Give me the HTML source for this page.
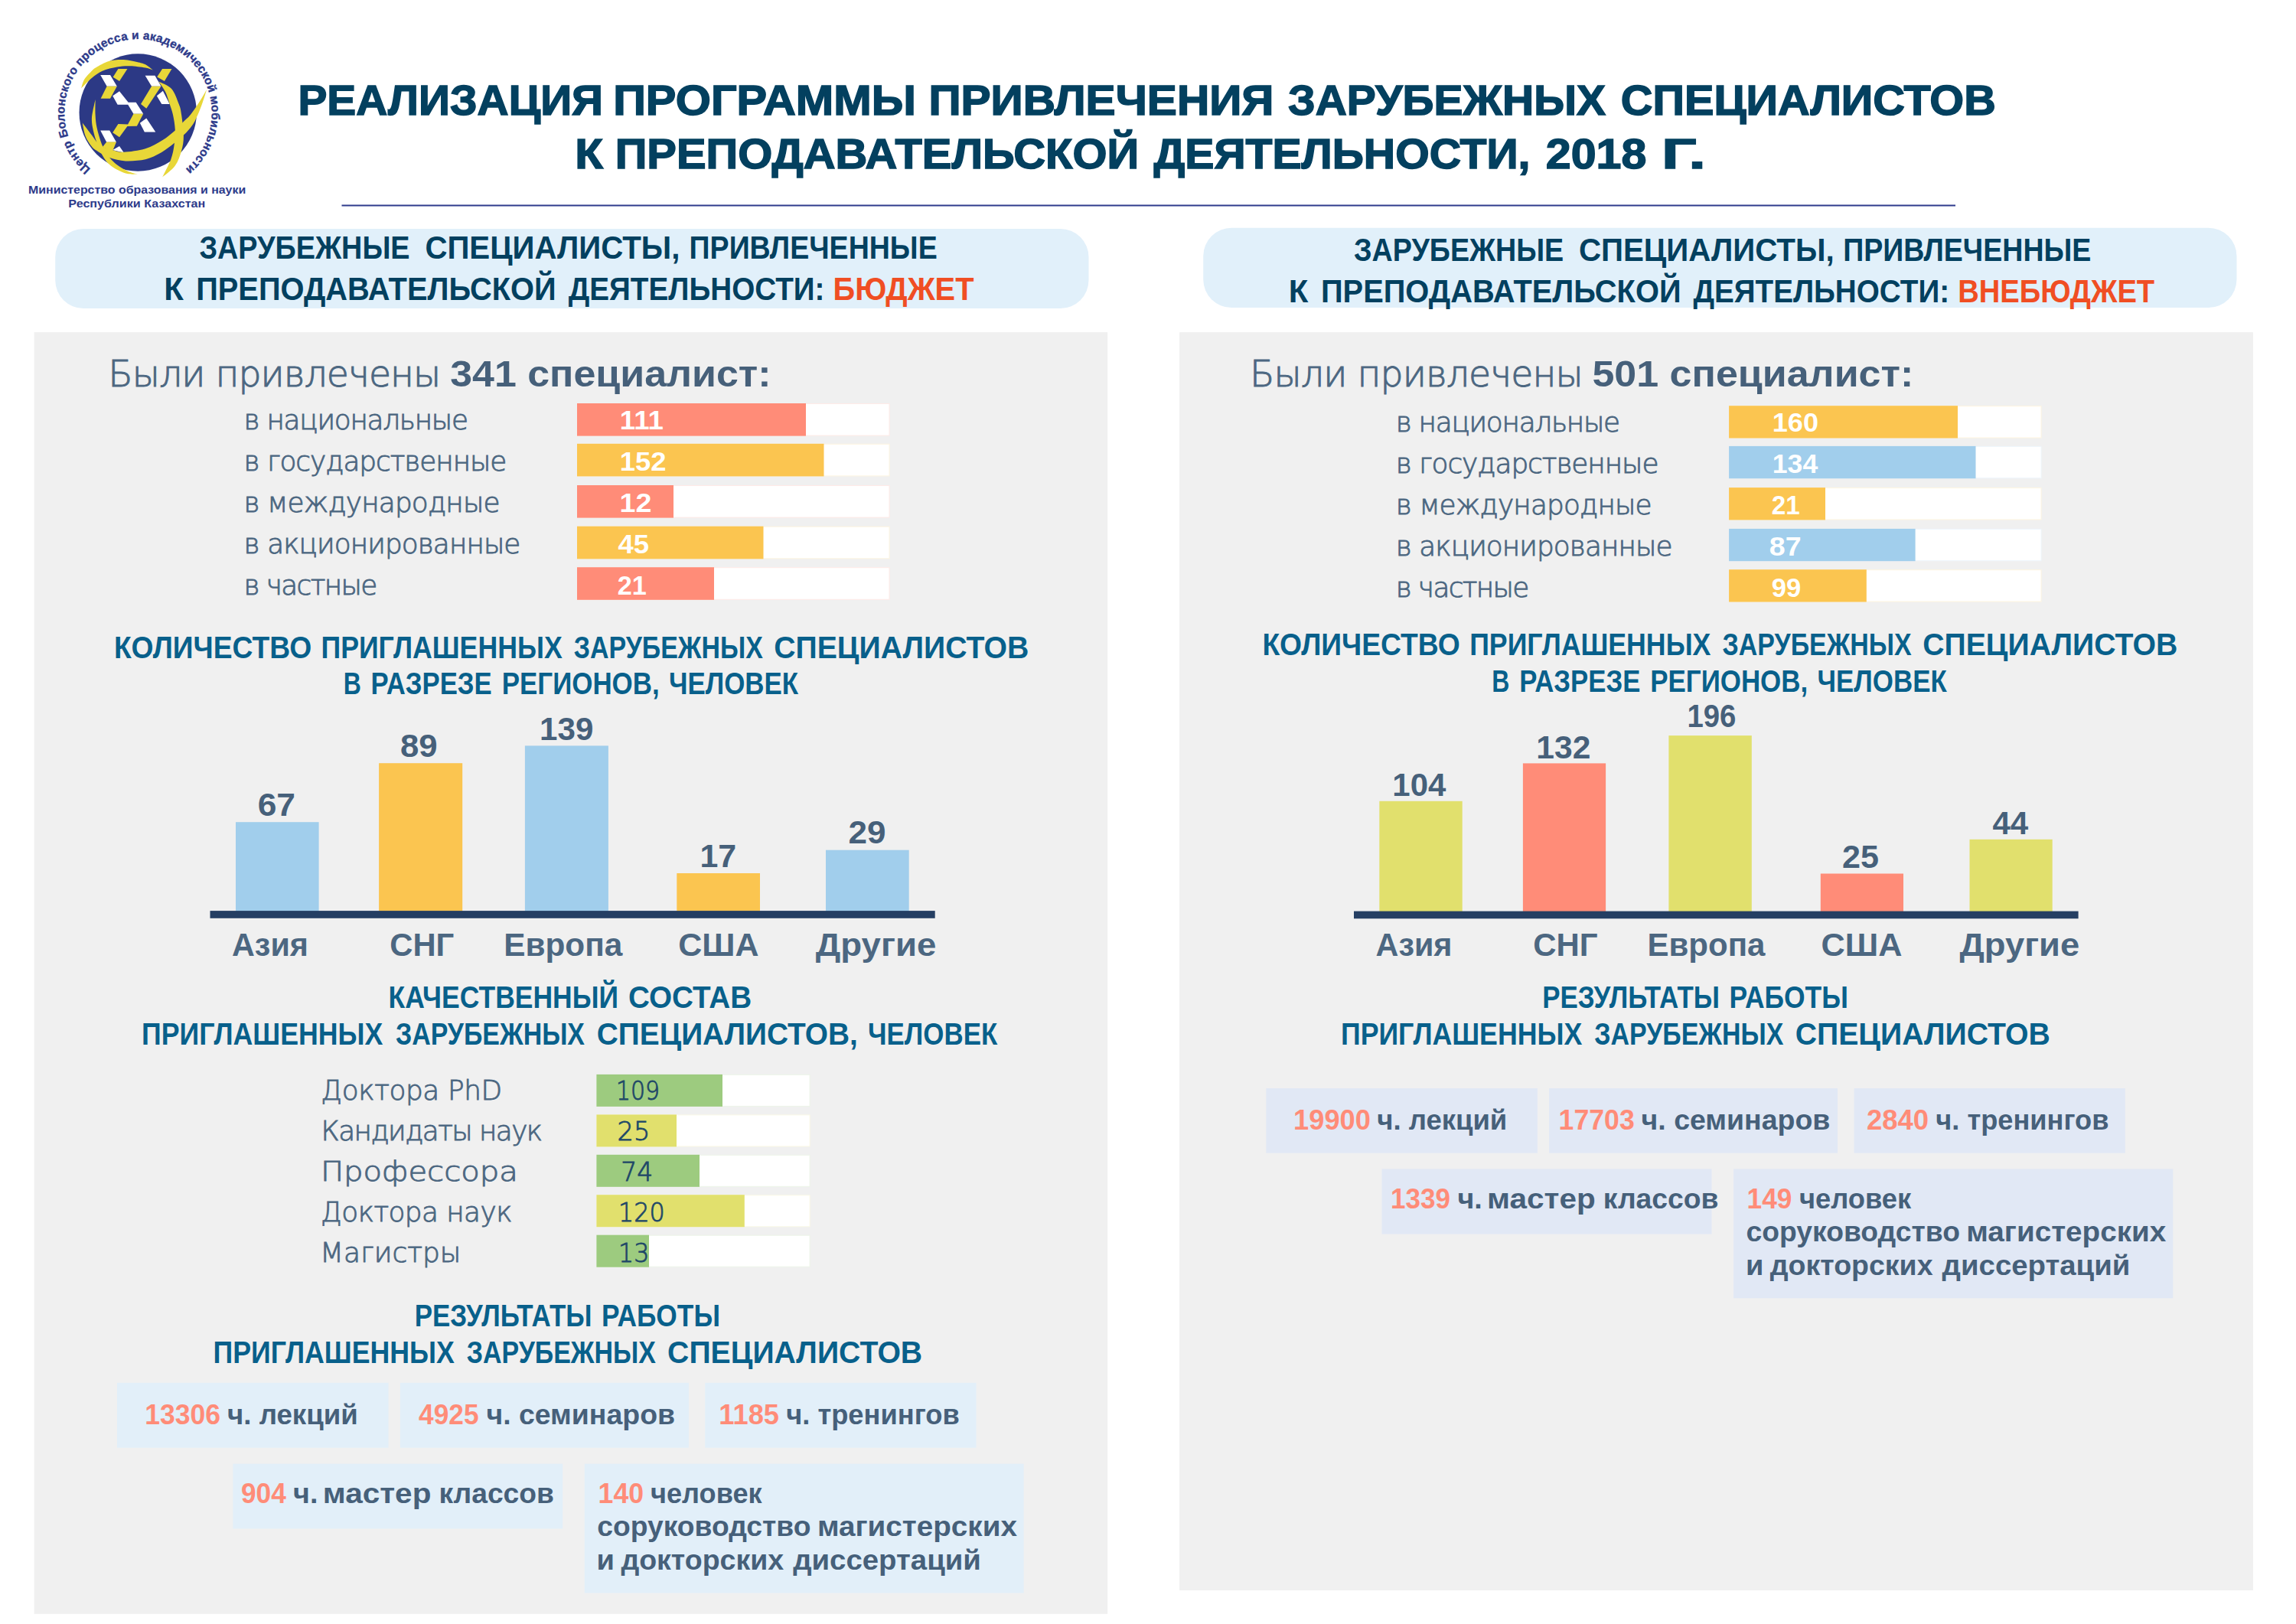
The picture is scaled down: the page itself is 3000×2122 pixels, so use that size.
<!DOCTYPE html>
<html lang="ru">
<head>
<meta charset="utf-8">
<title>Реализация программы привлечения зарубежных специалистов к преподавательской деятельности, 2018 г.</title>
<style>
html,body{margin:0;padding:0;background:#fff;}
body{width:3000px;height:2122px;overflow:hidden;font-family:"Liberation Sans", sans-serif;}
svg{display:block;font-family:"Liberation Sans", sans-serif;}
svg text{white-space:pre;}
.lt{font-family:"DejaVu Sans Light","DejaVu Sans","Liberation Sans",sans-serif;font-weight:200;}
</style>
</head>
<body>
<svg width="3000" height="2122" viewBox="0 0 3000 2122">
<circle cx="180.2" cy="147" r="76.7" fill="#2C3985"/>
<g fill="#E8D738"><path d="M106.0,115.5 C106.7,113.6 108.0,107.5 110.0,104.0 C112.0,100.5 115.6,97.0 118.2,94.4 C120.8,91.8 121.4,90.6 125.4,88.2 C129.4,85.8 136.1,81.6 142.1,79.9 C148.1,78.2 155.0,77.8 161.5,78.0 C168.0,78.2 176.2,80.4 180.9,81.4 C185.7,82.5 186.8,82.6 190.0,84.3 C193.2,86.0 198.4,90.4 200.1,91.6 C198.4,91.1 195.1,89.5 190.0,88.6 C184.9,87.7 176.0,86.5 169.8,86.3 C163.7,86.1 159.1,86.5 153.1,87.6 C147.1,88.7 139.2,90.4 133.7,92.8 C128.2,95.2 124.5,98.3 119.9,102.1 C115.3,105.9 108.3,113.3 106.0,115.5Z"/><path d="M124.6,129.9 C124.0,132.4 122.1,140.8 121.3,145.0 C120.5,149.2 120.0,151.4 119.9,155.0 C119.9,158.6 120.1,161.9 121.0,166.6 C121.9,171.3 123.3,177.3 125.4,183.3 C127.5,189.3 130.5,197.2 133.7,202.7 C136.9,208.2 139.7,212.5 144.8,216.5 C149.9,220.5 158.4,224.7 164.2,226.5 C170.0,228.3 177.2,227.4 179.8,227.6 C177.7,226.9 171.4,225.7 167.0,223.7 C162.6,221.7 157.1,218.3 153.1,215.4 C149.1,212.5 146.0,209.3 143.2,206.0 C140.4,202.7 138.3,198.8 136.5,195.5 C134.7,192.2 133.8,190.8 132.1,186.0 C130.4,181.2 127.8,172.6 126.5,166.6 C125.2,160.6 124.9,156.1 124.6,150.0 C124.3,143.9 124.6,133.2 124.6,129.9Z"/></g>
<g transform="translate(120,80) scale(0.080064)">
<polygon points="140,225 300,225 410,410 245,410" fill="#FFFFFF"/>
<polygon points="450,490 595,670 720,670 840,860 680,860 590,710 420,710 340,565" fill="#FFFFFF"/>
<polygon points="870,235 1030,235 1130,410 975,410" fill="#FFFFFF"/>
<polygon points="1060,565 1160,485 1270,700 1140,700" fill="#FFFFFF"/>
<polygon points="785,1010 890,930 1040,1155 860,1155" fill="#FFFFFF"/>
<polygon points="140,1130 290,1130 400,1320 240,1320" fill="#FFFFFF"/>
<polygon points="340,1450 450,1385 520,1490 430,1470" fill="#FFFFFF"/>
<polygon points="430,125 580,125 450,325 345,260" fill="#E8D738"/>
<polygon points="245,409 410,409 300,610 145,610" fill="#E8D738"/>
<polygon points="1150,125 1305,125 1185,325 1065,255" fill="#E8D738"/>
<polygon points="975,409 1130,409 890,770 800,700" fill="#E8D738"/>
<polygon points="680,859 840,859 735,1058 580,1062 450,1240 340,1165 430,1025 588,1030" fill="#E8D738"/>
<polygon points="240,1319 400,1319 335,1475 175,1400" fill="#E8D738"/>
</g>
<g fill="#E8D738"><path d="M107.7,160.5 C108.3,163.4 109.6,172.5 111.6,177.7 C113.6,182.9 117.2,188.2 119.9,191.6 C122.6,195.0 124.1,195.6 128.0,198.0 C131.9,200.4 137.2,203.9 143.2,206.0 C149.2,208.1 156.4,210.0 164.2,210.4 C172.0,210.8 182.9,209.7 190.0,208.2 C197.1,206.7 201.0,204.5 206.6,201.6 C212.2,198.7 217.8,194.7 223.3,190.5 C228.9,186.3 235.3,181.0 239.9,176.6 C244.5,172.2 247.9,168.2 251.0,163.9 C254.1,159.6 255.9,155.8 258.2,150.6 C260.5,145.4 263.0,138.6 265.0,133.0 C267.0,127.4 269.2,119.7 270.1,117.0 C268.4,119.8 263.6,128.5 260.0,134.0 C256.4,139.5 252.3,145.7 248.8,150.0 C245.3,154.3 242.1,156.6 238.8,160.0 C235.5,163.4 233.2,166.6 228.8,170.5 C224.4,174.4 218.7,179.3 212.2,183.3 C205.7,187.3 198.4,191.7 190.0,194.3 C181.6,196.9 168.6,198.5 161.5,198.8 C154.4,199.1 151.7,197.2 147.6,196.2 C143.5,195.2 140.2,194.4 137.0,193.0 C133.8,191.6 131.0,190.2 128.2,187.5 C125.3,184.8 123.3,181.1 119.9,176.6 C116.5,172.1 109.7,163.2 107.7,160.5Z"/><path d="M207.3,106.4 C208.8,108.7 213.7,115.1 216.1,120.0 C218.5,124.9 220.0,131.0 221.7,136.0 C223.3,141.0 224.8,144.4 226.0,150.0 C227.2,155.6 228.5,162.9 228.8,169.4 C229.1,175.9 228.6,182.3 227.7,188.8 C226.8,195.3 225.9,201.1 223.3,208.2 C220.7,215.3 214.0,227.6 212.2,231.5 C215.0,229.0 224.7,222.2 228.8,216.5 C233.0,210.8 235.2,203.6 237.1,197.1 C238.9,190.6 239.9,185.5 239.9,177.7 C239.9,169.8 238.1,156.9 237.1,150.0 C236.1,143.1 235.9,141.7 233.7,136.0 C231.5,130.3 228.5,120.9 224.1,116.0 C219.7,111.1 210.1,108.0 207.3,106.4Z"/></g>
<defs><path id="ring" d="M118.49,220.89 A96.2,96.2 0 1 1 242.80,220.56"/></defs>
<text font-size="15.4" font-weight="bold" fill="#2D3A8A" stroke="#2D3A8A" stroke-width="0.35" textLength="469.3" lengthAdjust="spacing"><textPath href="#ring" textLength="469.3" lengthAdjust="spacing">Центр Болонского процесса и академической мобильности</textPath></text>
<text x="37.0" y="252.7" font-size="15" fill="#2D3A8A" font-weight="bold" textLength="284.2" lengthAdjust="spacingAndGlyphs">Министерство образования и науки</text>
<text x="89.3" y="270.7" font-size="15" fill="#2D3A8A" font-weight="bold" textLength="179.0" lengthAdjust="spacingAndGlyphs">Республики Казахстан</text>
<text y="150.4" font-size="55" font-weight="bold" fill="#03405F" stroke="#03405F" stroke-width="1.5"><tspan x="389.4" textLength="398.6" lengthAdjust="spacingAndGlyphs">РЕАЛИЗАЦИЯ</tspan> <tspan x="801.2" textLength="395.7" lengthAdjust="spacingAndGlyphs">ПРОГРАММЫ</tspan> <tspan x="1213.4" textLength="451.0" lengthAdjust="spacingAndGlyphs">ПРИВЛЕЧЕНИЯ</tspan> <tspan x="1683.0" textLength="415.0" lengthAdjust="spacingAndGlyphs">ЗАРУБЕЖНЫХ</tspan> <tspan x="2117.8" textLength="490.1" lengthAdjust="spacingAndGlyphs">СПЕЦИАЛИСТОВ</tspan></text>
<text y="220.0" font-size="55" font-weight="bold" fill="#03405F" stroke="#03405F" stroke-width="1.5"><tspan x="751.3" textLength="36.7" lengthAdjust="spacingAndGlyphs">К</tspan> <tspan x="803.7" textLength="684.4" lengthAdjust="spacingAndGlyphs">ПРЕПОДАВАТЕЛЬСКОЙ</tspan> <tspan x="1507.5" textLength="492.0" lengthAdjust="spacingAndGlyphs">ДЕЯТЕЛЬНОСТИ,</tspan> <tspan x="2019.8" textLength="131.6" lengthAdjust="spacingAndGlyphs">2018</tspan> <tspan x="2171.2" textLength="57.5" lengthAdjust="spacingAndGlyphs">Г.</tspan></text>
<rect x="446.5" y="267.5" width="2108.5" height="2.0" fill="#2E3A8C"/>
<rect x="72.2" y="298.9" width="1350.3" height="104.1" fill="#E1F0FA" rx="37"/>
<rect x="1572.2" y="297.7" width="1350.3" height="104.3" fill="#E1F0FA" rx="37"/>
<text y="338.4" font-size="43.2" font-weight="bold" fill="#03405F"><tspan x="260.4" textLength="275.2" lengthAdjust="spacingAndGlyphs">ЗАРУБЕЖНЫЕ</tspan> <tspan x="555.4" textLength="333.0" lengthAdjust="spacingAndGlyphs">СПЕЦИАЛИСТЫ,</tspan> <tspan x="900.6" textLength="324.1" lengthAdjust="spacingAndGlyphs">ПРИВЛЕЧЕННЫЕ</tspan></text>
<text y="392.0" font-size="43.2" font-weight="bold" fill="#03405F"><tspan x="214.2" textLength="25.6" lengthAdjust="spacingAndGlyphs">К</tspan> <tspan x="256.2" textLength="470.5" lengthAdjust="spacingAndGlyphs">ПРЕПОДАВАТЕЛЬСКОЙ</tspan> <tspan x="742.7" textLength="334.8" lengthAdjust="spacingAndGlyphs">ДЕЯТЕЛЬНОСТИ:</tspan> <tspan x="1088.6" textLength="183.9" lengthAdjust="spacingAndGlyphs" fill="#F04E23">БЮДЖЕТ</tspan></text>
<text y="341.0" font-size="43.2" font-weight="bold" fill="#03405F"><tspan x="1769.0" textLength="274.2" lengthAdjust="spacingAndGlyphs">ЗАРУБЕЖНЫЕ</tspan> <tspan x="2062.9" textLength="333.7" lengthAdjust="spacingAndGlyphs">СПЕЦИАЛИСТЫ,</tspan> <tspan x="2408.2" textLength="324.2" lengthAdjust="spacingAndGlyphs">ПРИВЛЕЧЕННЫЕ</tspan></text>
<text y="395.2" font-size="43.2" font-weight="bold" fill="#03405F"><tspan x="1683.7" textLength="25.6" lengthAdjust="spacingAndGlyphs">К</tspan> <tspan x="1726.0" textLength="470.5" lengthAdjust="spacingAndGlyphs">ПРЕПОДАВАТЕЛЬСКОЙ</tspan> <tspan x="2212.4" textLength="334.7" lengthAdjust="spacingAndGlyphs">ДЕЯТЕЛЬНОСТИ:</tspan> <tspan x="2558.2" textLength="257.0" lengthAdjust="spacingAndGlyphs" fill="#F04E23">ВНЕБЮДЖЕТ</tspan></text>
<rect x="44.6" y="434.1" width="1402.6" height="1674.7" fill="#F0F0F0"/>
<rect x="1541.1" y="434.1" width="1402.8" height="1644.0" fill="#F0F0F0"/>
<text y="505.0"><tspan x="141.2" font-size="47.3" fill="#4C6781" class="lt" stroke="#4C6781" stroke-width="1.0" textLength="435.0" lengthAdjust="spacing">Были привлечены</tspan> <tspan x="588.2" font-size="48.3" fill="#46607A" font-weight="bold" textLength="419.4" lengthAdjust="spacingAndGlyphs">341 специалист:</tspan></text>
<rect x="754.5" y="527.5" width="407.5" height="41.6" fill="#FFFFFF" stroke="#FFEAE7" stroke-width="1"/>
<rect x="754.0" y="527.0" width="299.0" height="42.6" fill="#FF8C78"/>
<text x="318.6" y="561.0" font-size="35.8" fill="#4C6781" class="lt" stroke="#4C6781" stroke-width="0.9" textLength="293.4" lengthAdjust="spacing">в национальные</text>
<text x="809.8" y="561.0" font-size="34.2" fill="#FFFFFF" font-weight="bold" textLength="57.1" lengthAdjust="spacingAndGlyphs">111</text>
<rect x="754.5" y="580.3" width="407.5" height="41.6" fill="#FFFFFF" stroke="#FEF5E0" stroke-width="1"/>
<rect x="754.0" y="579.8" width="322.5" height="42.6" fill="#FBC550"/>
<text x="318.6" y="615.0" font-size="35.8" fill="#4C6781" class="lt" stroke="#4C6781" stroke-width="0.9" textLength="343.8" lengthAdjust="spacing">в государственные</text>
<text x="809.7" y="615.0" font-size="34.2" fill="#FFFFFF" font-weight="bold" textLength="60.8" lengthAdjust="spacingAndGlyphs">152</text>
<rect x="754.5" y="634.5" width="407.5" height="41.6" fill="#FFFFFF" stroke="#FFEAE7" stroke-width="1"/>
<rect x="754.0" y="634.0" width="126.0" height="42.6" fill="#FF8C78"/>
<text x="318.6" y="669.0" font-size="35.8" fill="#4C6781" class="lt" stroke="#4C6781" stroke-width="0.9" textLength="334.9" lengthAdjust="spacing">в международные</text>
<text x="809.6" y="669.0" font-size="34.2" fill="#FFFFFF" font-weight="bold" textLength="41.9" lengthAdjust="spacingAndGlyphs">12</text>
<rect x="754.5" y="688.2" width="407.5" height="41.6" fill="#FFFFFF" stroke="#FEF5E0" stroke-width="1"/>
<rect x="754.0" y="687.7" width="243.5" height="42.6" fill="#FBC550"/>
<text x="318.6" y="723.0" font-size="35.8" fill="#4C6781" class="lt" stroke="#4C6781" stroke-width="0.9" textLength="361.8" lengthAdjust="spacing">в акционированные</text>
<text x="807.4" y="723.0" font-size="34.2" fill="#FFFFFF" font-weight="bold" textLength="40.6" lengthAdjust="spacingAndGlyphs">45</text>
<rect x="754.5" y="741.7" width="407.5" height="41.6" fill="#FFFFFF" stroke="#FFEAE7" stroke-width="1"/>
<rect x="754.0" y="741.2" width="179.0" height="42.6" fill="#FF8C78"/>
<text x="318.6" y="777.0" font-size="35.8" fill="#4C6781" class="lt" stroke="#4C6781" stroke-width="0.9" textLength="174.7" lengthAdjust="spacing">в частные</text>
<text x="806.8" y="777.0" font-size="34.2" fill="#FFFFFF" font-weight="bold" textLength="38.1" lengthAdjust="spacingAndGlyphs">21</text>
<text y="859.6" font-size="40.6" font-weight="bold" fill="#08608B"><tspan x="148.9" textLength="258.3" lengthAdjust="spacingAndGlyphs">КОЛИЧЕСТВО</tspan> <tspan x="419.5" textLength="315.2" lengthAdjust="spacingAndGlyphs">ПРИГЛАШЕННЫХ</tspan> <tspan x="749.8" textLength="247.1" lengthAdjust="spacingAndGlyphs">ЗАРУБЕЖНЫХ</tspan> <tspan x="1011.2" textLength="333.1" lengthAdjust="spacingAndGlyphs">СПЕЦИАЛИСТОВ</tspan></text>
<text y="906.6" font-size="40.6" font-weight="bold" fill="#08608B"><tspan x="448.7" textLength="23.1" lengthAdjust="spacingAndGlyphs">В</tspan> <tspan x="484.6" textLength="158.1" lengthAdjust="spacingAndGlyphs">РАЗРЕЗЕ</tspan> <tspan x="655.8" textLength="205.9" lengthAdjust="spacingAndGlyphs">РЕГИОНОВ,</tspan> <tspan x="874.0" textLength="169.1" lengthAdjust="spacingAndGlyphs">ЧЕЛОВЕК</tspan></text>
<rect x="308.0" y="1074.2" width="108.6" height="116.8" fill="#A1CEEC"/>
<text x="336.7" y="1065.9" font-size="42" fill="#46607A" font-weight="bold" textLength="49.3" lengthAdjust="spacingAndGlyphs">67</text>
<rect x="495.1" y="997.2" width="109.1" height="193.8" fill="#FBC550"/>
<text x="523.0" y="988.8" font-size="42" fill="#46607A" font-weight="bold" textLength="48.7" lengthAdjust="spacingAndGlyphs">89</text>
<rect x="685.9" y="974.4" width="109.0" height="216.6" fill="#A1CEEC"/>
<text x="705.1" y="966.6" font-size="42" fill="#46607A" font-weight="bold" textLength="70.3" lengthAdjust="spacingAndGlyphs">139</text>
<rect x="884.3" y="1141.0" width="108.7" height="50.0" fill="#FBC550"/>
<text x="914.5" y="1132.9" font-size="42" fill="#46607A" font-weight="bold" textLength="47.7" lengthAdjust="spacingAndGlyphs">17</text>
<rect x="1079.0" y="1110.7" width="108.7" height="80.3" fill="#A1CEEC"/>
<text x="1108.5" y="1102.3" font-size="42" fill="#46607A" font-weight="bold" textLength="49.0" lengthAdjust="spacingAndGlyphs">29</text>
<rect x="274.5" y="1190.1" width="947.2" height="9.7" fill="#253F63"/>
<text x="303.0" y="1248.6" font-size="42" fill="#4C6781" font-weight="bold" textLength="99.9" lengthAdjust="spacingAndGlyphs">Азия</text>
<text x="509.3" y="1248.6" font-size="42" fill="#4C6781" font-weight="bold" textLength="84.0" lengthAdjust="spacingAndGlyphs">СНГ</text>
<text x="658.2" y="1248.6" font-size="42" fill="#4C6781" font-weight="bold" textLength="155.1" lengthAdjust="spacingAndGlyphs">Европа</text>
<text x="886.2" y="1248.6" font-size="42" fill="#4C6781" font-weight="bold" textLength="105.3" lengthAdjust="spacingAndGlyphs">США</text>
<text x="1065.8" y="1248.6" font-size="42" fill="#4C6781" font-weight="bold" textLength="157.5" lengthAdjust="spacingAndGlyphs">Другие</text>
<text y="1317.0" font-size="40.6" font-weight="bold" fill="#08608B"><tspan x="507.5" textLength="300.5" lengthAdjust="spacingAndGlyphs">КАЧЕСТВЕННЫЙ</tspan> <tspan x="821.1" textLength="161.0" lengthAdjust="spacingAndGlyphs">СОСТАВ</tspan></text>
<text y="1364.5" font-size="40.6" font-weight="bold" fill="#08608B"><tspan x="185.1" textLength="315.2" lengthAdjust="spacingAndGlyphs">ПРИГЛАШЕННЫХ</tspan> <tspan x="516.9" textLength="247.1" lengthAdjust="spacingAndGlyphs">ЗАРУБЕЖНЫХ</tspan> <tspan x="779.8" textLength="341.1" lengthAdjust="spacingAndGlyphs">СПЕЦИАЛИСТОВ,</tspan> <tspan x="1134.1" textLength="169.1" lengthAdjust="spacingAndGlyphs">ЧЕЛОВЕК</tspan></text>
<rect x="779.9" y="1404.4" width="278.2" height="41.0" fill="#FFFFFF" stroke="#EDF6E8" stroke-width="1"/>
<rect x="779.4" y="1403.9" width="164.6" height="42.0" fill="#9DCB7F"/>
<text x="419.3" y="1437.4" font-size="35.8" fill="#4C6781" class="lt" stroke="#4C6781" stroke-width="0.9" textLength="236.8" lengthAdjust="spacing">Доктора PhD</text>
<text x="804.9" y="1437.4" font-size="34.2" fill="#1F4868" class="lt" stroke="#1F4868" stroke-width="0.9" textLength="57.1" lengthAdjust="spacingAndGlyphs">109</text>
<rect x="779.9" y="1456.9" width="278.2" height="41.0" fill="#FFFFFF" stroke="#FAF9E5" stroke-width="1"/>
<rect x="779.4" y="1456.4" width="104.6" height="42.0" fill="#E1E06D"/>
<text x="419.6" y="1490.4" font-size="35.8" fill="#4C6781" class="lt" stroke="#4C6781" stroke-width="0.9" textLength="289.5" lengthAdjust="spacing">Кандидаты наук</text>
<text x="806.6" y="1490.4" font-size="34.2" fill="#1F4868" class="lt" stroke="#1F4868" stroke-width="0.9" textLength="42.7" lengthAdjust="spacingAndGlyphs">25</text>
<rect x="779.9" y="1509.3" width="278.2" height="41.0" fill="#FFFFFF" stroke="#EDF6E8" stroke-width="1"/>
<rect x="779.4" y="1508.8" width="134.6" height="42.0" fill="#9DCB7F"/>
<text x="418.9" y="1543.4" font-size="35.8" fill="#4C6781" class="lt" stroke="#4C6781" stroke-width="0.9" textLength="258.0" lengthAdjust="spacingAndGlyphs">Профессора</text>
<text x="811.3" y="1543.4" font-size="34.2" fill="#1F4868" class="lt" stroke="#1F4868" stroke-width="0.9" textLength="41.9" lengthAdjust="spacingAndGlyphs">74</text>
<rect x="779.9" y="1561.8" width="278.2" height="41.0" fill="#FFFFFF" stroke="#FAF9E5" stroke-width="1"/>
<rect x="779.4" y="1561.2" width="193.4" height="42.0" fill="#E1E06D"/>
<text x="419.1" y="1596.4" font-size="35.8" fill="#4C6781" class="lt" stroke="#4C6781" stroke-width="0.9" textLength="250.3" lengthAdjust="spacing">Доктора наук</text>
<text x="808.1" y="1596.4" font-size="34.2" fill="#1F4868" class="lt" stroke="#1F4868" stroke-width="0.9" textLength="60.7" lengthAdjust="spacingAndGlyphs">120</text>
<rect x="779.9" y="1614.2" width="278.2" height="41.0" fill="#FFFFFF" stroke="#EDF6E8" stroke-width="1"/>
<rect x="779.4" y="1613.7" width="68.6" height="42.0" fill="#9DCB7F"/>
<text x="418.0" y="1649.4" font-size="35.8" fill="#4C6781" class="lt" stroke="#4C6781" stroke-width="0.9" textLength="184.3" lengthAdjust="spacingAndGlyphs">Магистры</text>
<text x="808.1" y="1649.4" font-size="34.2" fill="#1F4868" class="lt" stroke="#1F4868" stroke-width="0.9" textLength="40.3" lengthAdjust="spacingAndGlyphs">13</text>
<text y="1733.1" font-size="40.6" font-weight="bold" fill="#08608B"><tspan x="541.8" textLength="231.6" lengthAdjust="spacingAndGlyphs">РЕЗУЛЬТАТЫ</tspan> <tspan x="786.0" textLength="155.0" lengthAdjust="spacingAndGlyphs">РАБОТЫ</tspan></text>
<text y="1781.0" font-size="40.6" font-weight="bold" fill="#08608B"><tspan x="278.6" textLength="315.2" lengthAdjust="spacingAndGlyphs">ПРИГЛАШЕННЫХ</tspan> <tspan x="609.8" textLength="247.1" lengthAdjust="spacingAndGlyphs">ЗАРУБЕЖНЫХ</tspan> <tspan x="872.1" textLength="333.1" lengthAdjust="spacingAndGlyphs">СПЕЦИАЛИСТОВ</tspan></text>
<rect x="153.0" y="1806.8" width="354.6" height="84.9" fill="#E2EFF9"/>
<text y="1861.0" font-size="37.3" font-weight="bold" fill="#46607A"><tspan x="189.2" textLength="98.9" lengthAdjust="spacingAndGlyphs" fill="#FF8C78">13306</tspan> <tspan x="297.0" textLength="170.8" lengthAdjust="spacingAndGlyphs">ч. лекций</tspan></text>
<rect x="522.9" y="1806.8" width="377.0" height="84.9" fill="#E2EFF9"/>
<text y="1861.0" font-size="37.3" font-weight="bold" fill="#46607A"><tspan x="547.1" textLength="78.5" lengthAdjust="spacingAndGlyphs" fill="#FF8C78">4925</tspan> <tspan x="635.4" textLength="246.7" lengthAdjust="spacingAndGlyphs">ч. семинаров</tspan></text>
<rect x="921.3" y="1806.8" width="354.2" height="84.9" fill="#E2EFF9"/>
<text y="1861.0" font-size="37.3" font-weight="bold" fill="#46607A"><tspan x="939.3" textLength="78.7" lengthAdjust="spacingAndGlyphs" fill="#FF8C78">1185</tspan> <tspan x="1027.2" textLength="226.6" lengthAdjust="spacingAndGlyphs">ч. тренингов</tspan></text>
<rect x="304.4" y="1912.7" width="430.8" height="84.7" fill="#E2EFF9"/>
<text y="1964.2" font-size="37.3" font-weight="bold" fill="#46607A"><tspan x="314.9" textLength="58.9" lengthAdjust="spacingAndGlyphs" fill="#FF8C78">904</tspan> <tspan x="383.1" textLength="32.3" lengthAdjust="spacingAndGlyphs">ч.</tspan> <tspan x="421.8" textLength="141.6" lengthAdjust="spacingAndGlyphs">мастер</tspan> <tspan x="573.5" textLength="150.4" lengthAdjust="spacingAndGlyphs">классов</tspan></text>
<rect x="763.8" y="1912.7" width="573.8" height="168.8" fill="#E2EFF9"/>
<text y="1964.2" font-size="37.3" font-weight="bold" fill="#46607A"><tspan x="781.6" textLength="59.5" lengthAdjust="spacingAndGlyphs" fill="#FF8C78">140</tspan> <tspan x="850.0" textLength="145.6" lengthAdjust="spacingAndGlyphs">человек</tspan></text>
<text y="2007.3" font-size="37.3" font-weight="bold" fill="#46607A"><tspan x="780.2" textLength="279.3" lengthAdjust="spacingAndGlyphs">соруководство</tspan> <tspan x="1067.9" textLength="261.0" lengthAdjust="spacingAndGlyphs">магистерских</tspan></text>
<text y="2051.0" font-size="37.3" font-weight="bold" fill="#46607A"><tspan x="779.6" textLength="23.4" lengthAdjust="spacingAndGlyphs">и</tspan> <tspan x="811.4" textLength="212.7" lengthAdjust="spacingAndGlyphs">докторских</tspan> <tspan x="1036.2" textLength="245.7" lengthAdjust="spacingAndGlyphs">диссертаций</tspan></text>
<text y="504.6"><tspan x="1633.0" font-size="47.3" fill="#4C6781" class="lt" stroke="#4C6781" stroke-width="1.0" textLength="435.8" lengthAdjust="spacing">Были привлечены</tspan> <tspan x="2080.4" font-size="48.3" fill="#46607A" font-weight="bold" textLength="419.9" lengthAdjust="spacingAndGlyphs">501 специалист:</tspan></text>
<rect x="2259.6" y="530.7" width="407.4" height="41.3" fill="#FFFFFF" stroke="#FEF5E0" stroke-width="1"/>
<rect x="2259.1" y="530.2" width="298.9" height="42.3" fill="#FBC550"/>
<text x="1823.7" y="563.7" font-size="35.8" fill="#4C6781" class="lt" stroke="#4C6781" stroke-width="0.9" textLength="293.4" lengthAdjust="spacing">в национальные</text>
<text x="2315.7" y="563.7" font-size="34.2" fill="#FFFFFF" font-weight="bold" textLength="60.3" lengthAdjust="spacingAndGlyphs">160</text>
<rect x="2259.6" y="583.4" width="407.4" height="41.3" fill="#FFFFFF" stroke="#EEF6FC" stroke-width="1"/>
<rect x="2259.1" y="582.9" width="322.4" height="42.3" fill="#A1CEEC"/>
<text x="1823.7" y="617.7" font-size="35.8" fill="#4C6781" class="lt" stroke="#4C6781" stroke-width="0.9" textLength="343.8" lengthAdjust="spacing">в государственные</text>
<text x="2315.8" y="617.7" font-size="34.2" fill="#FFFFFF" font-weight="bold" textLength="59.4" lengthAdjust="spacingAndGlyphs">134</text>
<rect x="2259.6" y="637.6" width="407.4" height="41.3" fill="#FFFFFF" stroke="#FEF5E0" stroke-width="1"/>
<rect x="2259.1" y="637.1" width="125.9" height="42.3" fill="#FBC550"/>
<text x="1823.7" y="671.6" font-size="35.8" fill="#4C6781" class="lt" stroke="#4C6781" stroke-width="0.9" textLength="334.9" lengthAdjust="spacing">в международные</text>
<text x="2314.8" y="671.6" font-size="34.2" fill="#FFFFFF" font-weight="bold" textLength="37.1" lengthAdjust="spacingAndGlyphs">21</text>
<rect x="2259.6" y="691.4" width="407.4" height="41.3" fill="#FFFFFF" stroke="#EEF6FC" stroke-width="1"/>
<rect x="2259.1" y="690.9" width="243.5" height="42.3" fill="#A1CEEC"/>
<text x="1823.7" y="725.6" font-size="35.8" fill="#4C6781" class="lt" stroke="#4C6781" stroke-width="0.9" textLength="361.8" lengthAdjust="spacing">в акционированные</text>
<text x="2311.8" y="725.6" font-size="34.2" fill="#FFFFFF" font-weight="bold" textLength="41.8" lengthAdjust="spacingAndGlyphs">87</text>
<rect x="2259.6" y="744.7" width="407.4" height="41.3" fill="#FFFFFF" stroke="#FEF5E0" stroke-width="1"/>
<rect x="2259.1" y="744.2" width="179.7" height="42.3" fill="#FBC550"/>
<text x="1823.7" y="779.5" font-size="35.8" fill="#4C6781" class="lt" stroke="#4C6781" stroke-width="0.9" textLength="174.7" lengthAdjust="spacing">в частные</text>
<text x="2314.8" y="779.5" font-size="34.2" fill="#FFFFFF" font-weight="bold" textLength="38.5" lengthAdjust="spacingAndGlyphs">99</text>
<text y="856.4" font-size="40.6" font-weight="bold" fill="#08608B"><tspan x="1649.4" textLength="258.3" lengthAdjust="spacingAndGlyphs">КОЛИЧЕСТВО</tspan> <tspan x="1920.2" textLength="315.2" lengthAdjust="spacingAndGlyphs">ПРИГЛАШЕННЫХ</tspan> <tspan x="2250.6" textLength="247.1" lengthAdjust="spacingAndGlyphs">ЗАРУБЕЖНЫХ</tspan> <tspan x="2512.2" textLength="333.1" lengthAdjust="spacingAndGlyphs">СПЕЦИАЛИСТОВ</tspan></text>
<text y="904.2" font-size="40.6" font-weight="bold" fill="#08608B"><tspan x="1949.2" textLength="23.1" lengthAdjust="spacingAndGlyphs">В</tspan> <tspan x="1985.2" textLength="158.1" lengthAdjust="spacingAndGlyphs">РАЗРЕЗЕ</tspan> <tspan x="2156.3" textLength="205.9" lengthAdjust="spacingAndGlyphs">РЕГИОНОВ,</tspan> <tspan x="2374.6" textLength="169.1" lengthAdjust="spacingAndGlyphs">ЧЕЛОВЕК</tspan></text>
<rect x="1802.3" y="1046.8" width="108.4" height="144.7" fill="#E1E06D"/>
<text x="1819.3" y="1039.7" font-size="42" fill="#46607A" font-weight="bold" textLength="70.0" lengthAdjust="spacingAndGlyphs">104</text>
<rect x="1989.9" y="997.4" width="108.2" height="194.1" fill="#FF8C78"/>
<text x="2007.3" y="990.6" font-size="42" fill="#46607A" font-weight="bold" textLength="71.0" lengthAdjust="spacingAndGlyphs">132</text>
<rect x="2180.4" y="961.1" width="108.4" height="230.4" fill="#E1E06D"/>
<text x="2204.4" y="950.4" font-size="42" fill="#46607A" font-weight="bold" textLength="63.9" lengthAdjust="spacingAndGlyphs">196</text>
<rect x="2378.8" y="1141.5" width="108.2" height="50.0" fill="#FF8C78"/>
<text x="2407.1" y="1133.7" font-size="42" fill="#46607A" font-weight="bold" textLength="47.9" lengthAdjust="spacingAndGlyphs">25</text>
<rect x="2573.5" y="1096.8" width="108.2" height="94.7" fill="#E1E06D"/>
<text x="2603.4" y="1090.0" font-size="42" fill="#46607A" font-weight="bold" textLength="46.7" lengthAdjust="spacingAndGlyphs">44</text>
<rect x="1769.0" y="1190.6" width="946.6" height="9.7" fill="#253F63"/>
<text x="1797.6" y="1249.2" font-size="42" fill="#4C6781" font-weight="bold" textLength="99.9" lengthAdjust="spacingAndGlyphs">Азия</text>
<text x="2003.3" y="1249.2" font-size="42" fill="#4C6781" font-weight="bold" textLength="84.2" lengthAdjust="spacingAndGlyphs">СНГ</text>
<text x="2152.5" y="1249.2" font-size="42" fill="#4C6781" font-weight="bold" textLength="153.9" lengthAdjust="spacingAndGlyphs">Европа</text>
<text x="2379.6" y="1249.2" font-size="42" fill="#4C6781" font-weight="bold" textLength="105.9" lengthAdjust="spacingAndGlyphs">США</text>
<text x="2560.6" y="1249.2" font-size="42" fill="#4C6781" font-weight="bold" textLength="156.5" lengthAdjust="spacingAndGlyphs">Другие</text>
<text y="1316.5" font-size="40.6" font-weight="bold" fill="#08608B"><tspan x="2015.3" textLength="231.6" lengthAdjust="spacingAndGlyphs">РЕЗУЛЬТАТЫ</tspan> <tspan x="2259.5" textLength="155.4" lengthAdjust="spacingAndGlyphs">РАБОТЫ</tspan></text>
<text y="1364.6" font-size="40.6" font-weight="bold" fill="#08608B"><tspan x="1752.0" textLength="315.2" lengthAdjust="spacingAndGlyphs">ПРИГЛАШЕННЫХ</tspan> <tspan x="2083.3" textLength="247.1" lengthAdjust="spacingAndGlyphs">ЗАРУБЕЖНЫХ</tspan> <tspan x="2345.7" textLength="333.1" lengthAdjust="spacingAndGlyphs">СПЕЦИАЛИСТОВ</tspan></text>
<rect x="1654.3" y="1422.0" width="354.6" height="84.7" fill="#E1E8F5"/>
<text y="1475.8" font-size="37.3" font-weight="bold" fill="#46607A"><tspan x="1690.1" textLength="100.8" lengthAdjust="spacingAndGlyphs" fill="#FF8C78">19900</tspan> <tspan x="1799.2" textLength="170.1" lengthAdjust="spacingAndGlyphs">ч. лекций</tspan></text>
<rect x="2024.1" y="1422.0" width="376.9" height="84.7" fill="#E1E8F5"/>
<text y="1475.8" font-size="37.3" font-weight="bold" fill="#46607A"><tspan x="2036.6" textLength="99.2" lengthAdjust="spacingAndGlyphs" fill="#FF8C78">17703</tspan> <tspan x="2144.6" textLength="246.8" lengthAdjust="spacingAndGlyphs">ч. семинаров</tspan></text>
<rect x="2422.6" y="1422.0" width="354.2" height="84.7" fill="#E1E8F5"/>
<text y="1475.8" font-size="37.3" font-weight="bold" fill="#46607A"><tspan x="2438.9" textLength="81.2" lengthAdjust="spacingAndGlyphs" fill="#FF8C78">2840</tspan> <tspan x="2529.3" textLength="226.1" lengthAdjust="spacingAndGlyphs">ч. тренингов</tspan></text>
<rect x="1805.5" y="1527.4" width="431.0" height="85.1" fill="#E1E8F5"/>
<text y="1579.3" font-size="37.3" font-weight="bold" fill="#46607A"><tspan x="1817.1" textLength="77.9" lengthAdjust="spacingAndGlyphs" fill="#FF8C78">1339</tspan> <tspan x="1904.4" textLength="32.3" lengthAdjust="spacingAndGlyphs">ч.</tspan> <tspan x="1943.1" textLength="141.6" lengthAdjust="spacingAndGlyphs">мастер</tspan> <tspan x="2094.8" textLength="150.7" lengthAdjust="spacingAndGlyphs">классов</tspan></text>
<rect x="2265.1" y="1527.4" width="574.2" height="168.9" fill="#E1E8F5"/>
<text y="1579.3" font-size="37.3" font-weight="bold" fill="#46607A"><tspan x="2282.6" textLength="58.9" lengthAdjust="spacingAndGlyphs" fill="#FF8C78">149</tspan> <tspan x="2350.9" textLength="146.3" lengthAdjust="spacingAndGlyphs">человек</tspan></text>
<text y="1622.2" font-size="37.3" font-weight="bold" fill="#46607A"><tspan x="2281.6" textLength="279.3" lengthAdjust="spacingAndGlyphs">соруководство</tspan> <tspan x="2569.3" textLength="261.0" lengthAdjust="spacingAndGlyphs">магистерских</tspan></text>
<text y="1665.9" font-size="37.3" font-weight="bold" fill="#46607A"><tspan x="2281.0" textLength="23.4" lengthAdjust="spacingAndGlyphs">и</tspan> <tspan x="2312.8" textLength="212.7" lengthAdjust="spacingAndGlyphs">докторских</tspan> <tspan x="2537.6" textLength="245.8" lengthAdjust="spacingAndGlyphs">диссертаций</tspan></text>
</svg>
</body>
</html>
